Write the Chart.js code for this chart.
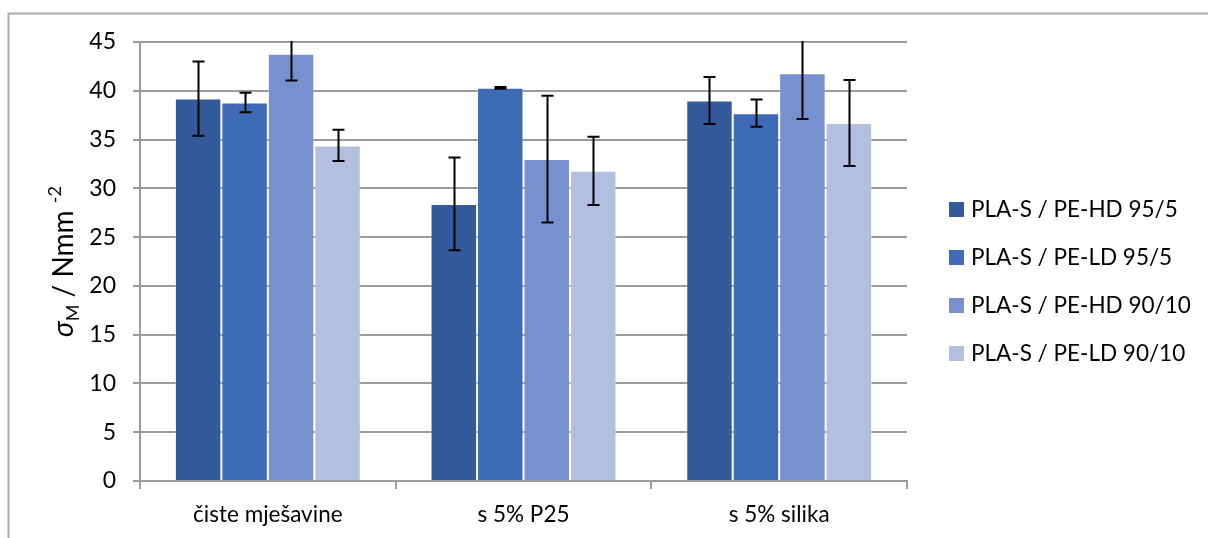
<!DOCTYPE html>
<html>
<head>
<meta charset="utf-8">
<script src="https://cdn.jsdelivr.net/npm/chart.js@4.4.0/dist/chart.umd.min.js"></script>
<style>
  html, body { margin: 0; padding: 0; background: #fff; }
  #wrap { position: relative; width: 1208px; height: 538px; }
</style>
</head>
<body>
<div id="wrap"><canvas id="tensileChart" width="1208" height="538"></canvas></div>
<script>
// categories and series
const categories = ['čiste mješavine', 's 5% P25', 's 5% silika'];
const seriesNames = ['PLA-S / PE-HD 95/5', 'PLA-S / PE-LD 95/5', 'PLA-S / PE-HD 90/10', 'PLA-S / PE-LD 90/10'];
const hd95 = [39.2, 28.4, 39.0];
const ld95 = [38.8, 40.3, 37.7];
const hd90 = [43.8, 33.0, 41.8];
const ld90 = [34.4, 31.8, 36.7];
// +/- error (standard deviation)
const hd95Err = [3.8, 4.75, 2.4];
const ld95Err = [1.0, 0.1, 1.4];
const hd90Err = [2.75, 6.5, 4.7];
const ld90Err = [1.6, 3.5, 4.4];
const yTicks = [0, 5, 10, 15, 20, 25, 30, 35, 40, 45];

const colors = ['#335a9b', '#3e6bb8', '#7891ce', '#b3bfdf'];
const FONT = "Lato, 'Open Sans', sans-serif";

const seriesData = [hd95, ld95, hd90, ld90];
const seriesErr = [hd95Err, ld95Err, hd90Err, ld90Err];

// error bars, frame, axis title and legend are drawn here
const extras = {
    id: 'extras',
    beforeDraw(chart) {
        const ctx = chart.ctx;
        ctx.save();
        ctx.strokeStyle = '#ababab';
        ctx.lineWidth = 2;
        ctx.beginPath();
        ctx.moveTo(8.5, 538);
        ctx.lineTo(8.5, 13.5);
        ctx.lineTo(1208, 13.5);
        ctx.stroke();
        ctx.restore();
    },
    afterDatasetsDraw(chart) {
        const ctx = chart.ctx;
        const y = chart.scales.y;
        const area = chart.chartArea;
        ctx.save();
        ctx.beginPath();
        ctx.rect(area.left, area.top - 1, area.right - area.left, area.bottom - area.top + 1);
        ctx.clip();
        ctx.strokeStyle = '#000';
        ctx.lineWidth = 2;
        chart.data.datasets.forEach((ds, di) => {
            const meta = chart.getDatasetMeta(di);
            meta.data.forEach((bar, i) => {
                const v = ds.data[i];
                const e = seriesErr[di][i];
                const x = Math.round(bar.x) + 0.5;
                const top = y.getPixelForValue(v + e);
                const bot = y.getPixelForValue(v - e);
                const cap = 6;
                ctx.beginPath();
                ctx.moveTo(x, top); ctx.lineTo(x, bot);
                ctx.moveTo(x - cap, top); ctx.lineTo(x + cap, top);
                ctx.moveTo(x - cap, bot); ctx.lineTo(x + cap, bot);
                ctx.stroke();
            });
        });
        ctx.restore();
    },
    afterDraw(chart) {
        const ctx = chart.ctx;
        const area = chart.chartArea;
        // y axis title: sigma_M / Nmm^-2
        ctx.save();
        ctx.translate(73, (area.top + area.bottom) / 2);
        ctx.rotate(-Math.PI / 2);
        ctx.fillStyle = '#000';
        ctx.textBaseline = 'alphabetic';
        const big = '28px ' + FONT;
        const small = '18px ' + FONT;
        const parts = [
            { t: 'σ', f: 'italic ' + big, dy: 0 },
            { t: 'M', f: small, dy: 6 },
            { t: ' / Nmm ', f: big, dy: 0 },
            { t: '-2', f: small, dy: -12 }
        ];
        let w = 0;
        parts.forEach(p => { ctx.font = p.f; w += ctx.measureText(p.t).width; });
        let x = -w / 2;
        parts.forEach(p => {
            ctx.font = p.f;
            ctx.fillText(p.t, x, p.dy);
            x += ctx.measureText(p.t).width;
        });
        ctx.restore();

        // legend
        ctx.save();
        ctx.font = '22.5px ' + FONT;
        ctx.textBaseline = 'middle';
        chart.data.datasets.forEach((ds, i) => {
            const cy = 209 + i * 48;
            ctx.fillStyle = ds.backgroundColor;
            ctx.fillRect(949, cy - 7, 15, 15);
            ctx.fillStyle = '#000';
            ctx.fillText(ds.label, 971, cy + 1);
        });
        ctx.restore();
    }
};

new Chart(document.getElementById('tensileChart'), {
    type: 'bar',
    data: {
        labels: categories,
        datasets: seriesNames.map((name, i) => ({
            label: name,
            data: seriesData[i],
            backgroundColor: colors[i],
            borderColor: 'rgba(255,255,255,0.35)',
            borderWidth: 1,
            barPercentage: 1,
            categoryPercentage: 0.727
        }))
    },
    options: {
        responsive: false,
        animation: false,
        layout: { padding: { top: 42, right: 301, left: 0, bottom: 0 } },
        plugins: {
            legend: { display: false },
            tooltip: { enabled: false }
        },
        scales: {
            x: {
                afterFit(scale) { scale.height = 57; },
                grid: {
                    offset: true,
                    drawOnChartArea: false,
                    drawTicks: true,
                    tickLength: 8,
                    color: '#9a9a9a',
                    lineWidth: 2
                },
                border: { color: '#9a9a9a', width: 2 },
                ticks: {
                    color: '#000',
                    font: { family: FONT, size: 22.5 },
                    padding: 12
                }
            },
            y: {
                min: 0,
                max: 45,
                afterFit(scale) { scale.width = 140; },
                afterBuildTicks(scale) { scale.ticks = yTicks.map(v => ({ value: v })); },
                grid: {
                    color: '#9a9a9a',
                    lineWidth: 2,
                    tickLength: 7
                },
                border: { color: '#9a9a9a', width: 2 },
                ticks: {
                    color: '#000',
                    font: { family: FONT, size: 23 },
                    padding: 17
                }
            }
        }
    },
    plugins: [extras]
});
</script>
</body>
</html>
